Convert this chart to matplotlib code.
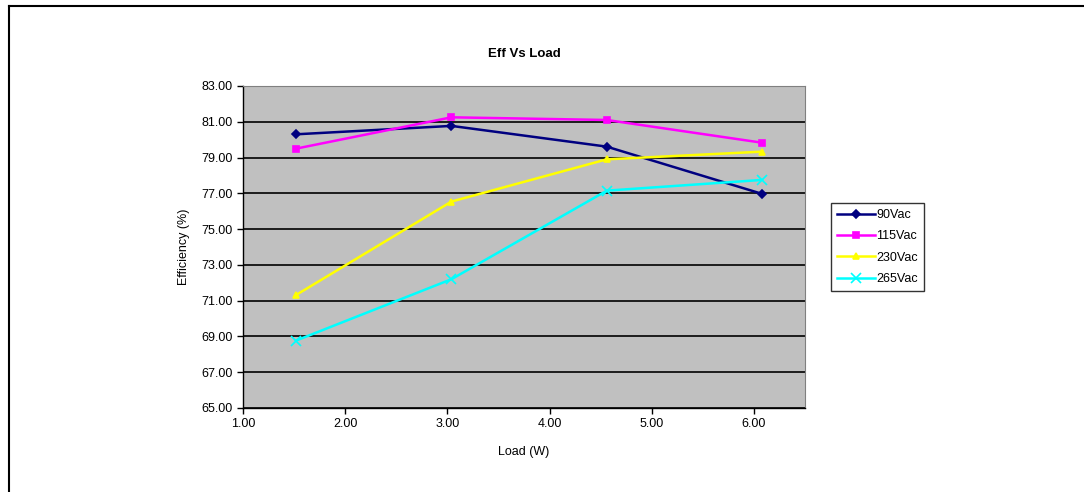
import matplotlib
matplotlib.use('Agg')
import matplotlib.pyplot as plt
from matplotlib.lines import Line2D

plt.rcParams['font.family'] = ['Liberation Sans', 'DejaVu Sans']

# load points (W) and efficiency (%) per input voltage
load = [1.52, 3.04, 4.56, 6.08]
eff_90 = [80.30, 80.77, 79.61, 76.97]
eff_115 = [79.50, 81.25, 81.10, 79.83]
eff_230 = [71.32, 76.54, 78.90, 79.33]
eff_265 = [68.77, 72.20, 77.15, 77.75]

series = [
    ("90Vac", eff_90, "#000080", "D", 4),
    ("115Vac", eff_115, "#FF00FF", "s", 5),
    ("230Vac", eff_230, "#FFFF00", "^", 5),
    ("265Vac", eff_265, "#00FFFF", "x", 7),
]

fig = plt.figure(figsize=(10.84, 4.92), dpi=100)

# outer frame (left and top edges)
fig.add_artist(Line2D([9 / 1084, 9 / 1084], [0, 1 - 6 / 492], color="black", lw=1.5))
fig.add_artist(Line2D([9 / 1084, 1083 / 1084], [1 - 6 / 492, 1 - 6 / 492], color="black", lw=1.5))

ax = fig.add_axes([243 / 1084, 84 / 492, 562 / 1084, 322 / 492])
ax.set_facecolor("#C0C0C0")

for name, vals, col, mk, ms in series:
    ax.plot(load, vals, color=col, lw=1.8, marker=mk, markersize=ms,
            markeredgecolor=col, markeredgewidth=1.2, label=name)

ax.set_xlim(1.0, 6.5)
ax.set_ylim(65, 83)
ax.set_xticks([1, 2, 3, 4, 5, 6])
ax.set_yticks(range(65, 84, 2))
ax.set_xticklabels([f"{v:.2f}" for v in [1, 2, 3, 4, 5, 6]])
ax.set_yticklabels([f"{v:.2f}" for v in range(65, 84, 2)])
ax.tick_params(labelsize=9, length=4, width=1, direction="out", color="black")
ax.grid(axis="y", color="black", lw=1.2)
ax.set_axisbelow(True)

for s in ["top", "right"]:
    ax.spines[s].set_color("#808080")
for s in ["left", "bottom"]:
    ax.spines[s].set_color("black")
    ax.spines[s].set_linewidth(1)

ax.set_title("Eff Vs Load", fontsize=9.5, fontweight="bold", pad=21)
ax.set_xlabel("Load (W)", fontsize=9, labelpad=11)
ax.set_ylabel("Efficiency (%)", fontsize=9, labelpad=8)

leg = ax.legend(loc="center left", bbox_to_anchor=(1.035, 0.5), fontsize=9,
                frameon=True, fancybox=False, edgecolor="black",
                handlelength=3, handletextpad=0.1, borderpad=0.5,
                labelspacing=0.75)
leg.get_frame().set_linewidth(1)

fig.savefig("out.png", dpi=100)
